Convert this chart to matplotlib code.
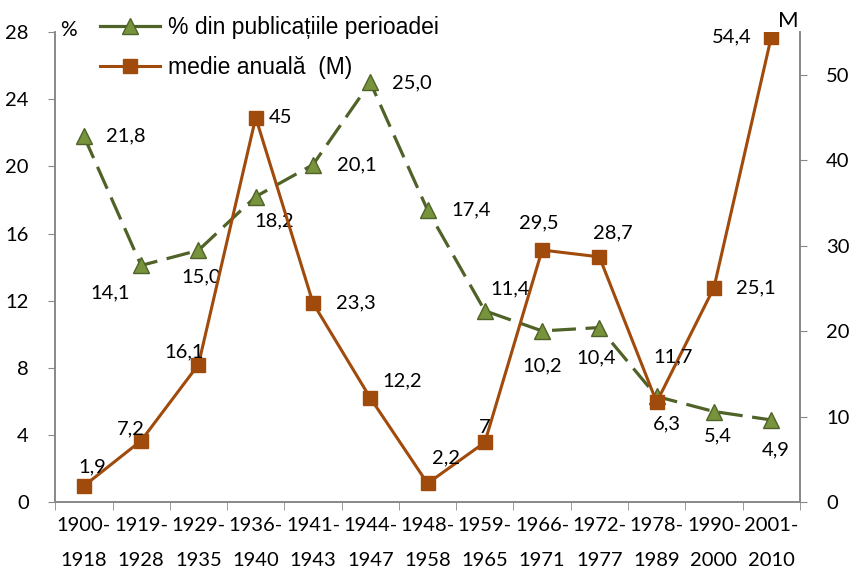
import matplotlib.pyplot as plt
from matplotlib.lines import Line2D

categories = ['1900-\n1918', '1919-\n1928', '1929-\n1935', '1936-\n1940', '1941-\n1943',
              '1944-\n1947', '1948-\n1958', '1959-\n1965', '1966-\n1971', '1972-\n1977',
              '1978-\n1989', '1990-\n2000', '2001-\n2010']
percent = [21.8, 14.1, 15.0, 18.2, 20.1, 25.0, 17.4, 11.4, 10.2, 10.4, 6.3, 5.4, 4.9]
annual = [1.9, 7.2, 16.1, 45, 23.3, 12.2, 2.2, 7, 29.5, 28.7, 11.7, 25.1, 54.4]
percent_labels = ['21,8', '14,1', '15,0', '18,2', '20,1', '25,0', '17,4', '11,4', '10,2',
                  '10,4', '6,3', '5,4', '4,9']
annual_labels = ['1,9', '7,2', '16,1', '45', '23,3', '12,2', '2,2', '7', '29,5', '28,7',
                 '11,7', '25,1', '54,4']

# label offsets in pixels (dx, dy)
percent_off = [(42, 0), (-31, -27), (3, -27), (18, -24), (44, 0), (42, 0), (44, 0),
               (25, 22), (0, -35), (-3, -30), (10, -27), (4, -24), (4, -30)]
annual_off = [(8, 19), (-10, 12), (-14, 13), (25, 0), (43, 0), (32, 17), (18, 26),
              (0, 15), (-3, 27), (13, 24), (16, 45), (42, 0), (-39, 0)]

plt.rcParams['font.family'] = ['Lato', 'DejaVu Sans']

fig = plt.figure(figsize=(8.5, 5.72), dpi=100)
ax = fig.add_axes([0.065, 0.122, 0.876, 0.822])
ax2 = ax.twinx()

x = list(range(len(categories)))
green_line = '#4F6228'
green_fill = '#77933C'
orange = '#A04A0B'

ax.plot(x, percent, color=green_line, lw=2.3, dashes=(7.5, 3), marker='^',
        markersize=12, markerfacecolor=green_fill, markeredgecolor=green_line,
        markeredgewidth=1, zorder=3)
ax2.plot(x, annual, color=orange, lw=2.2, marker='s', markersize=10.5,
         markerfacecolor=orange, markeredgecolor=orange, zorder=3)

for i in x:
    ax.annotate(percent_labels[i], (i, percent[i]), xytext=percent_off[i],
                textcoords='offset pixels', ha='center', va='center', fontsize=14.5)
    ax2.annotate(annual_labels[i], (i, annual[i]), xytext=annual_off[i],
                 textcoords='offset pixels', ha='center', va='center', fontsize=14.5)

ax.set_xlim(-0.5, len(categories) - 0.5)
ax.set_ylim(0, 28)
ax.set_yticks(range(0, 29, 4))
ax2.set_ylim(0, 55)
ax2.set_yticks(range(0, 51, 10))

ax.set_xticks(x)
ax.set_xticklabels(categories, fontsize=14.5, linespacing=2.25)
ax.set_xticks([i - 0.5 for i in range(len(categories) + 1)], minor=True)
ax.tick_params(axis='x', which='major', length=0, pad=11)
ax.tick_params(axis='x', which='minor', length=6, color='#888888', direction='out')
ax.tick_params(axis='y', labelsize=14.5, length=5, color='#888888', pad=14)
ax2.tick_params(axis='y', labelsize=14.5, length=5, color='#888888', pad=14)

for a in (ax, ax2):
    a.spines['top'].set_visible(False)
    for s in ('left', 'right', 'bottom'):
        a.spines[s].set_color('#888888')
        a.spines[s].set_linewidth(1.2)

fig.text(0.071, 0.947, '%', fontsize=15, ha='left', va='center')
fig.text(0.927, 0.963, 'M', fontsize=16, ha='center', va='center')

h1 = Line2D([], [], color=green_line, lw=2.3, marker='^', markersize=12,
            markerfacecolor=green_fill, markeredgecolor=green_line)
h2 = Line2D([], [], color=orange, lw=2.2, marker='s', markersize=10.5,
            markerfacecolor=orange, markeredgecolor=orange)
fig.legend(handles=[h1, h2], labels=['% din publicațiile perioadei', 'medie anuală  (M)'],
           loc='upper left', bbox_to_anchor=(0.093, 1.008), frameon=False,
           handlelength=2.65, handletextpad=0.35, labelspacing=0.75,
           prop={'family': ['Liberation Sans', 'DejaVu Sans'], 'size': 16.5})

fig.savefig('out.png', dpi=100)
